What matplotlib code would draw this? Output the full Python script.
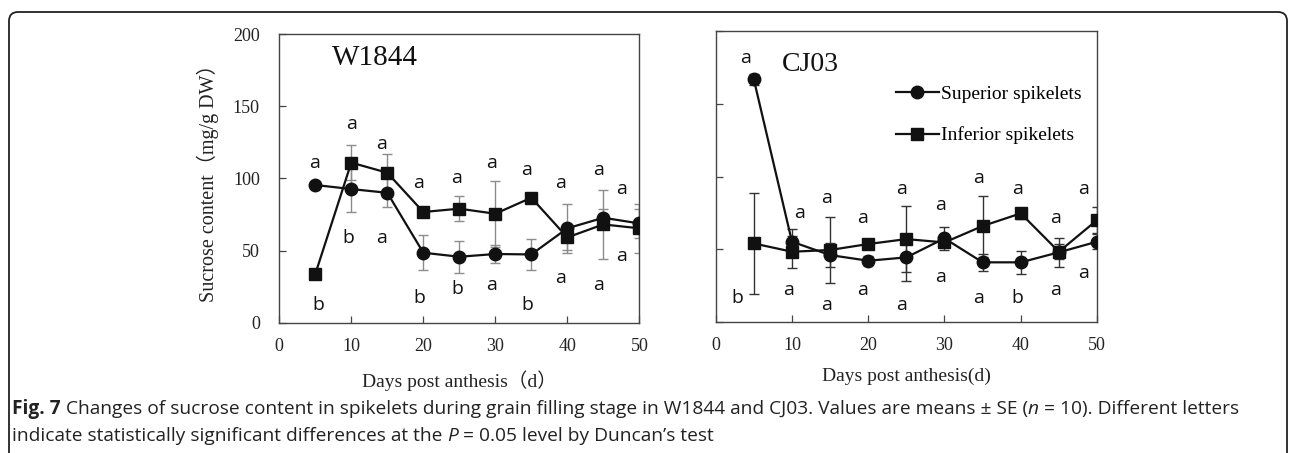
import matplotlib
matplotlib.use("Agg")
import matplotlib.pyplot as plt
from matplotlib.patches import FancyBboxPatch
from matplotlib.transforms import IdentityTransform

plt.rcParams['font.family'] = ['Liberation Serif', 'Noto Sans CJK SC', 'DejaVu Sans']

# ------------------------------
# data
days = [5, 10, 15, 20, 25, 30, 35, 40, 45, 50]

# W1844
w_sup = [95.4, 92.6, 90.0, 48.5, 45.7, 47.6, 47.3, 65.4, 72.7, 68.8]
w_sup_err = [1.5, 16, 10, 12, 11, 6, 11, 17, 6, 10]
w_inf = [33.7, 110.9, 103.9, 76.7, 79.0, 75.5, 86.6, 59.1, 68.1, 65.4]
w_inf_err = [1.5, 12, 13, 3, 8.5, 23, 1.5, 9, 24, 17]

# CJ03
c_sup = [166.9, 55.1, 45.9, 42.0, 44.3, 57.4, 40.9, 40.9, 47.8, 55.1]
c_sup_err = [4, 8.5, 8, 3, 16, 8, 6, 8, 10, 5]
c_inf = [53.9, 48.2, 49.4, 53.5, 56.9, 54.6, 65.9, 74.6, 48.2, 70.0]
c_inf_err = [35, 11, 22.7, 3, 23, 3, 21, 4, 5, 9]

# significance letters (text, x, y)
w_top_txt = ['a', 'a', 'a', 'a', 'a', 'a', 'a', 'a', 'a', 'a']
w_top_x = [4.96, 10.1, 14.2, 19.4, 24.6, 29.5, 34.4, 39.1, 44.3, 47.6]
w_top_y = [110.4, 137.6, 123.8, 96.5, 100, 110.4, 105.8, 96.5, 105.8, 92.4]
w_bot_txt = ['b', 'b', 'a', 'b', 'b', 'a', 'b', 'a', 'a', 'a']
w_bot_x = [5.4, 9.6, 14.2, 19.4, 24.7, 29.5, 34.4, 39.1, 44.3, 47.6]
w_bot_y = [12.2, 58.9, 58.9, 17.3, 23.1, 26.1, 12.2, 30.7, 26.1, 46.4]

c_top_txt = ['a', 'a', 'a', 'a', 'a', 'a', 'a', 'a', 'a', 'a']
c_top_x = [3.93, 10.96, 14.5, 19.3, 24.4, 29.5, 34.5, 39.6, 44.6, 48.2]
c_top_y = [181.4, 75.1, 84.9, 71.2, 91.1, 80.3, 98.7, 91.1, 71.2, 91.1]
c_bot_txt = ['b', 'a', 'a', 'a', 'a', 'a', 'a', 'b', 'a', 'a']
c_bot_x = [2.9, 9.6, 14.5, 19.3, 24.4, 29.5, 34.5, 39.6, 44.6, 48.2]
c_bot_y = [16.1, 21.8, 11.5, 21.8, 11.5, 30.5, 16.1, 16.1, 21.8, 33.7]

x_ticks = [0, 10, 20, 30, 40, 50]
y_ticks = [0, 50, 100, 150, 200]

# ------------------------------
fig = plt.figure(figsize=(12.9, 4.53), dpi=100)
ax1 = fig.add_axes([0.2165, 0.2876, 0.2791, 0.6373])
ax2 = fig.add_axes([0.5548, 0.2898, 0.2956, 0.6411])

letter_font = dict(family=['Open Sans', 'DejaVu Sans'], fontsize=14, color='#111111')


def draw_panel(ax, sup, sup_err, inf, inf_err, ecolor):
    ax.errorbar(days, sup, yerr=sup_err, fmt='none', ecolor=ecolor, elinewidth=1.0,
                capsize=3.5, capthick=1.0, zorder=2)
    ax.errorbar(days, inf, yerr=inf_err, fmt='none', ecolor=ecolor, elinewidth=1.0,
                capsize=3.5, capthick=1.0, zorder=2)
    ax.plot(days, sup, 'o-', color='#111111', lw=1.6, ms=9, label='Superior spikelets', zorder=3)
    ax.plot(days, inf, 's-', color='#111111', lw=1.6, ms=8.5, label='Inferior spikelets', zorder=3)
    ax.set_xlim(0, 50)
    ax.set_ylim(0, 200)
    ax.set_xticks(x_ticks)
    ax.set_yticks(y_ticks)
    ax.tick_params(direction='in', length=5, width=0.9, colors='#444444', labelcolor='#222222',
                   labelsize=13)
    ax.tick_params(axis='x', pad=11)
    ax.tick_params(axis='y', pad=14)
    for sp in ax.spines.values():
        sp.set_color('#444444')
        sp.set_linewidth(1.0)


def put_letters(ax, txt, xs, ys):
    for t, x, y in zip(txt, xs, ys):
        ax.text(x, y, t, ha='center', va='center', **letter_font)


draw_panel(ax1, w_sup, w_sup_err, w_inf, w_inf_err, '#8c8c8c')
put_letters(ax1, w_top_txt, w_top_x, w_top_y)
put_letters(ax1, w_bot_txt, w_bot_x, w_bot_y)
ax1.text(13.3, 183.4, 'W1844', ha='center', va='center', fontsize=21, color='#111111')
ax1.set_ylabel('Sucrose content（mg/g DW）', fontsize=14.5, color='#222222', labelpad=10)
ax1.set_xlabel('Days post anthesis（d）', fontsize=14, color='#222222', labelpad=11)

draw_panel(ax2, c_sup, c_sup_err, c_inf, c_inf_err, '#333333')
put_letters(ax2, c_top_txt, c_top_x, c_top_y)
put_letters(ax2, c_bot_txt, c_bot_x, c_bot_y)
ax2.text(12.4, 176.8, 'CJ03', ha='center', va='center', fontsize=20, color='#111111')
ax2.set_yticklabels([])
ax2.set_xlabel('Days post anthesis(d)', fontsize=14, color='#222222', labelpad=10)
ax2.legend(loc='upper left', bbox_to_anchor=(0.452, 0.84), frameon=False, fontsize=14,
           handlelength=2.2, handletextpad=0.1, labelspacing=1.2, borderaxespad=0)

# ------------------------------
# caption
cap_font = dict(family=['Open Sans', 'DejaVu Sans'], fontsize=13.8, color='#222222')
renderer = fig.canvas.get_renderer()


def write_line(x_px, y_px, pieces):
    x = x_px
    for s, style, weight in pieces:
        t = fig.text(x / 1290, 1 - y_px / 453, s, va='baseline', ha='left',
                     style=style, weight=weight, **cap_font)
        x += t.get_window_extent(renderer).width
    return x


write_line(12, 414, [('Fig. 7', 'normal', 'bold'),
                     (' Changes of sucrose content in spikelets during grain filling stage in W1844 and CJ03. '
                      'Values are means ± SE (', 'normal', 'normal'),
                     ('n', 'italic', 'normal'),
                     (' = 10). Different letters', 'normal', 'normal')])
write_line(12, 441, [('indicate statistically significant differences at the ', 'normal', 'normal'),
                     ('P', 'italic', 'normal'),
                     (' = 0.05 level by Duncan’s test', 'normal', 'normal')])

# rounded frame around the whole figure
frame = FancyBboxPatch((9, -30), 1278, 453 - 12 + 30, boxstyle='round,pad=0,rounding_size=9',
                       transform=IdentityTransform(), fill=False, edgecolor='#222222', lw=1.3)
fig.add_artist(frame)

fig.savefig('out.png', dpi=100)
